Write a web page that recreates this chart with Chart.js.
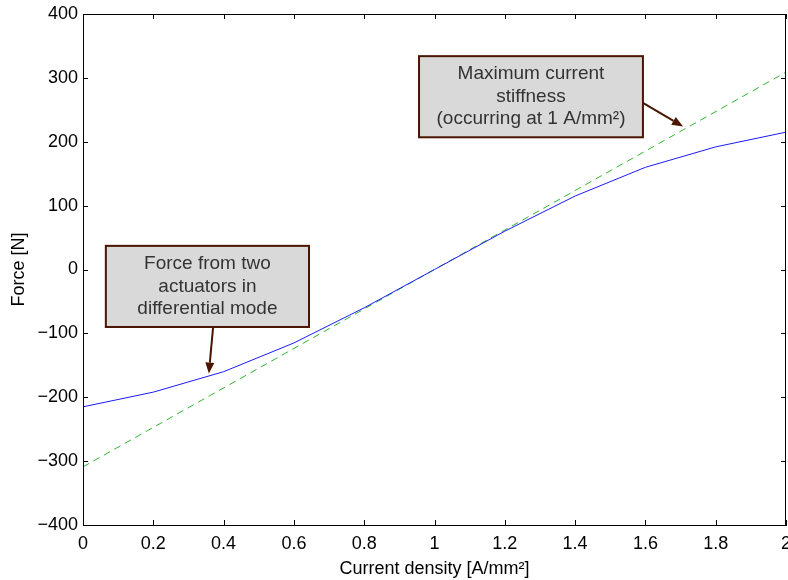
<!DOCTYPE html>
<html>
<head>
<meta charset="utf-8">
<script src="https://cdn.jsdelivr.net/npm/chart.js@4/dist/chart.umd.min.js"></script>
<style>
	html, body { margin: 0; padding: 0; background: #fff; }
	#wrap { width: 788px; height: 580px; }
</style>
</head>
<body>
<div id="wrap"><canvas id="force-chart"></canvas></div>
<script>

// current density [A/mm2]
const currentDensity = [0, 0.2, 0.4, 0.6, 0.8, 1.0, 1.2, 1.4, 1.6, 1.8, 2.0];
// force from two actuators in differential mode [N]
const forceDiff = [-215, -192, -160, -115, -60, 0, 60, 115, 160, 192, 215];
// max stiffness line (tangent at 1 A/mm2), end points only
const stiffnessX = [0, 2];
const stiffnessY = [-309, 309];

// annotation boxes (data coords) and their arrows
const noteText = [
	['Force from two', 'actuators in', 'differential mode'],
	['Maximum current', 'stiffness', '(occurring at 1 A/mm\u00b2)']
];
const noteBox = [
	{ x0: 0.065, x1: 0.643, y0: 37, y1: -90 },
	{ x0: 0.956, x1: 1.593, y0: 334, y1: 207 }
];
const noteArrow = [
	{ x0: 0.37, y0: -91, x1: 0.358, y1: -163 },
	{ x0: 1.593, y0: 261, x1: 1.707, y1: 224 }
];

const FONT = '"Liberation Sans", Arial, Helvetica, sans-serif';

function to_points(xs, ys) {
	const pts = [];
	for ( let i = 0; i < xs.length; i++ ) {
		pts.push({ x: xs[i], y: ys[i] });
	}
	return pts;
}

// box frame + inward ticks, matlab style
const framePlugin = {
	id: 'frame',
	afterDraw(chart) {
		const ctx = chart.ctx;
		const a = chart.chartArea;
		const xs = chart.scales.x;
		const ys = chart.scales.y;
		const len = 5;
		ctx.save();
		ctx.strokeStyle = '#000';
		ctx.lineWidth = 1;
		ctx.strokeRect(a.left + 0.5, a.top + 0.5, a.right - a.left - 1, a.bottom - a.top);
		ctx.beginPath();
		xs.ticks.forEach(function (t, i) {
			const px = Math.round(xs.getPixelForTick(i)) + 0.5;
			ctx.moveTo(px, a.bottom); ctx.lineTo(px, a.bottom - len);
			ctx.moveTo(px, a.top); ctx.lineTo(px, a.top + len);
		});
		ys.ticks.forEach(function (t, i) {
			const py = Math.round(ys.getPixelForTick(i)) + 0.5;
			ctx.moveTo(a.left, py); ctx.lineTo(a.left + len, py);
			ctx.moveTo(a.right, py); ctx.lineTo(a.right - len, py);
		});
		ctx.stroke();
		ctx.restore();
	}
};

const notePlugin = {
	id: 'notes',
	afterDatasetsDraw(chart) {
		const ctx = chart.ctx;
		const xs = chart.scales.x;
		const ys = chart.scales.y;
		ctx.save();
		for ( let n = 0; n < noteBox.length; n++ ) {
			const b = noteBox[n];
			const l = xs.getPixelForValue(b.x0), r = xs.getPixelForValue(b.x1);
			const t = ys.getPixelForValue(b.y0), bt = ys.getPixelForValue(b.y1);
			ctx.fillStyle = '#d9d9d9';
			ctx.fillRect(l, t, r - l, bt - t);
			ctx.strokeStyle = '#4a1500';
			ctx.lineWidth = 2;
			ctx.strokeRect(l, t, r - l, bt - t);

			ctx.fillStyle = '#333';
			ctx.font = '19px ' + FONT;
			ctx.textAlign = 'center';
			ctx.textBaseline = 'middle';
			const lines = noteText[n];
			const lh = 22.5;
			const cy = (t + bt) / 2;
			for ( let k = 0; k < lines.length; k++ ) {
				ctx.fillText(lines[k], (l + r) / 2, cy + (k - (lines.length - 1) / 2) * lh);
			}

			// arrow
			const ar = noteArrow[n];
			const x0 = xs.getPixelForValue(ar.x0), y0 = ys.getPixelForValue(ar.y0);
			const x1 = xs.getPixelForValue(ar.x1), y1 = ys.getPixelForValue(ar.y1);
			const ang = Math.atan2(y1 - y0, x1 - x0);
			const hl = 11, hw = 4.5;
			const bx = x1 - hl * Math.cos(ang), by = y1 - hl * Math.sin(ang);
			ctx.strokeStyle = '#4a1500';
			ctx.fillStyle = '#4a1500';
			ctx.lineWidth = 2;
			ctx.beginPath();
			ctx.moveTo(x0, y0); ctx.lineTo(bx, by);
			ctx.stroke();
			ctx.beginPath();
			ctx.moveTo(x1, y1);
			ctx.lineTo(bx + hw * Math.sin(ang), by - hw * Math.cos(ang));
			ctx.lineTo(bx - hw * Math.sin(ang), by + hw * Math.cos(ang));
			ctx.closePath();
			ctx.fill();
		}
		ctx.restore();
	}
};

const chartCtx = document.getElementById('force-chart');

new Chart(chartCtx, {
	type: 'line',
	data: {
		datasets: [
			{
				label: 'Force',
				data: to_points(currentDensity, forceDiff),
				borderColor: '#1a1aff',
				borderWidth: 1,
				pointRadius: 0,
				fill: false,
				tension: 0
			},
			{
				label: 'Stiffness',
				data: to_points(stiffnessX, stiffnessY),
				borderColor: '#2fb52f',
				borderWidth: 1,
				borderDash: [7, 5],
				pointRadius: 0,
				fill: false,
				tension: 0
			}
		]
	},
	options: {
		responsive: true,
		maintainAspectRatio: false,
		animation: false,
		layout: { padding: { top: 14, right: 2, left: 0, bottom: 0 } },
		plugins: {
			legend: { display: false },
			tooltip: { enabled: false }
		},
		scales: {
			x: {
				type: 'linear',
				min: 0,
				max: 2,
				grid: { display: false, drawTicks: false },
				border: { display: true, color: '#000', width: 1 },
				ticks: {
					stepSize: 0.2,
					padding: 8,
					color: '#000',
					maxRotation: 0,
					font: { family: FONT, size: 18 },
					callback: function (v) { return String(Number(v.toFixed(1))); }
				},
				title: {
					display: true,
					text: 'Current density [A/mm\u00b2]',
					color: '#000',
					font: { family: FONT, size: 18 },
					padding: { top: 0, bottom: 0 }
				},
				afterFit: function (scale) {
					scale.height = 55;
					scale.paddingLeft = 0;
					scale.paddingRight = 0;
				}
			},
			y: {
				min: -400,
				max: 400,
				grid: { display: false, drawTicks: false },
				border: { display: true, color: '#000', width: 1 },
				ticks: {
					stepSize: 100,
					padding: 5,
					color: '#000',
					font: { family: FONT, size: 18 },
					callback: function (v) { return String(v).replace('-', '\u2212'); }
				},
				title: {
					display: true,
					text: 'Force [N]',
					color: '#000',
					font: { family: FONT, size: 18 },
					padding: { top: 8, bottom: 0 }
				},
				afterFit: function (scale) {
					scale.width = 83;
					scale.paddingTop = 0;
					scale.paddingBottom = 0;
				}
			}
		}
	},
	plugins: [framePlugin, notePlugin]
});
</script>
</body>
</html>
